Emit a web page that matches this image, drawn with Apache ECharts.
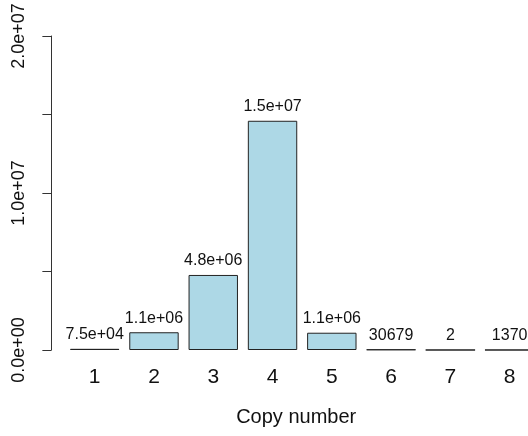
<!DOCTYPE html>
<html>
<head>
<meta charset="utf-8">
<script src="https://cdn.jsdelivr.net/npm/echarts@6/dist/echarts.min.js"></script>
<style>
html,body{margin:0;padding:0;background:#fff;}
#chart{width:528px;height:436px;}
</style>
</head>
<body>
<div id="chart"></div>
<script>
// Data
var categories = ['1', '2', '3', '4', '5', '6', '7', '8'];
var counts = [75000, 1130000, 4780000, 14600000, 1100000, 30679, 2, 1370];
var barLabels = ['7.5e+04', '1.1e+06', '4.8e+06', '1.5e+07', '1.1e+06', '30679', '2', '1370'];
var yTicks = [0, 5000000, 10000000, 15000000, 20000000];
var yTickLabels = ['0.0e+00', '', '1.0e+07', '', '2.0e+07'];

var FONT = '"Liberation Sans", Arial, Helvetica, sans-serif';
var chart = echarts.init(document.getElementById('chart'), null, {renderer: 'canvas'});

chart.setOption({
  animation: false,
  backgroundColor: '#ffffff',
  grid: {left: 65.06, width: 474.24, top: 36, bottom: 86, containLabel: false, outerBoundsMode: 'none'},
  xAxis: {
    type: 'category',
    data: categories,
    axisLine: {show: false},
    axisTick: {show: false},
    axisLabel: {fontSize: 21, color: '#111', margin: 17, fontFamily: FONT},
    name: 'Copy number',
    nameLocation: 'middle',
    nameGap: 57,
    nameTextStyle: {fontSize: 20, color: '#111', fontFamily: FONT, padding: [0, 12, 0, 0]}
  },
  yAxis: {
    type: 'value',
    min: yTicks[0],
    max: yTicks[yTicks.length - 1],
    interval: yTicks[1] - yTicks[0],
    offset: 13.7,
    splitLine: {show: false},
    axisLine: {show: true, lineStyle: {color: '#333', width: 1}},
    axisTick: {show: true, length: 9, lineStyle: {color: '#333', width: 1}},
    axisLabel: {
      rotate: 90,
      fontSize: 18,
      color: '#111',
      margin: 23,
      fontFamily: FONT,
      formatter: function (v) {
        var i = yTicks.indexOf(v);
        return i >= 0 ? yTickLabels[i] : '';
      }
    }
  },
  series: [{
    type: 'bar',
    data: counts,
    barWidth: '83.33%',
    itemStyle: {color: '#ADD8E6', borderColor: '#222', borderWidth: 1},
    label: {
      show: true,
      position: 'top',
      distance: 6,
      fontSize: 16,
      color: '#111',
      fontFamily: FONT,
      formatter: function (p) { return barLabels[p.dataIndex]; }
    }
  }]
});
</script>
</body>
</html>
